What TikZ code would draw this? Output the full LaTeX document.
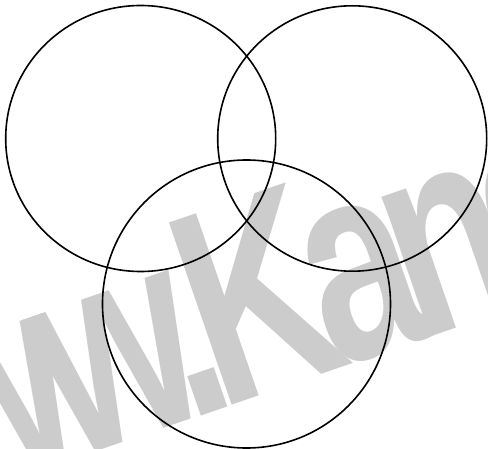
\documentclass[tikz,border=0pt]{standalone}
\usepackage{fontspec}
\newfontfamily\wmfont[FakeStretch=0.71,LetterSpace=-8]{Liberation Sans}
\definecolor{wmgray}{RGB}{204,204,204}
\begin{document}
\begin{tikzpicture}[x=1pt,y=1pt]
\useasboundingbox (0,0) rectangle (488,448);
\clip (0,0) rectangle (488,448);
% Watermark
\node[wmgray, anchor=base west, rotate=19, inner sep=0pt,
  font=\wmfont\bfseries\fontsize{280}{280}\selectfont] (wm) at (-180,-99) {www.Kand};
% Sets
\draw[line width=1.6pt] (140.7,309.5) ellipse (135 and 133);
\draw[line width=1.6pt] (352.2,309.5) ellipse (134.5 and 132.7);
\draw[line width=1.6pt] (246.5,144) circle (144);
\end{tikzpicture}
\end{document}
